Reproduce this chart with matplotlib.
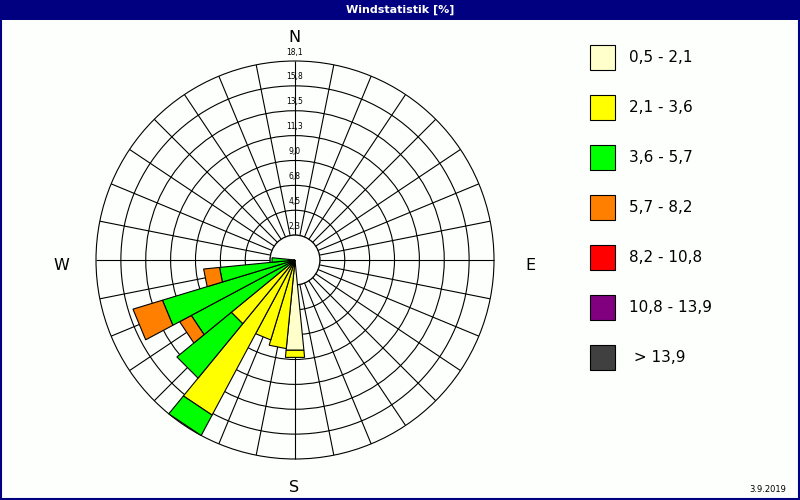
import numpy as np
import matplotlib
matplotlib.use("Agg")
import matplotlib.pyplot as plt
from matplotlib.patches import Polygon, Circle, Rectangle

# ---------------- data ----------------
title = "Windstatistik [%]"
date_text = "3.9.2019"
n_sectors = 32
directions = [180.0, 191.25, 202.5, 213.75, 225.0, 236.25, 247.5, 258.75, 270.0]
class_labels = ["0,5 - 2,1", "2,1 - 3,6", "3,6 - 5,7", "5,7 - 8,2",
                "8,2 - 10,8", "10,8 - 13,9", " > 13,9"]
class_colors = ["#FFFFCC", "#FFFF00", "#00FF00", "#FF8000",
                "#FF0000", "#800080", "#404040"]
# frequency [%] per speed class for each direction (stacked outward)
c1 = [8.25, 0.0, 0.0, 0.0, 0.0, 0.0, 0.0, 0.0, 0.0]
c2 = [0.65, 8.1, 7.6, 16.0, 7.5, 0.0, 0.0, 0.0, 0.0]
c3 = [0.0, 0.0, 0.0, 2.1, 6.4, 10.7, 12.6, 6.9, 2.1]
c4 = [0.0, 0.0, 0.0, 0.0, 0.0, 1.2, 2.8, 1.45, 0.0]
c5 = [0.0] * 9
c6 = [0.0] * 9
c7 = [0.0] * 9
classes = [c1, c2, c3, c4, c5, c6, c7]
ring_max = 18.1
ring_labels = ["2,3", "4,5", "6,8", "9,0", "11,3", "13,5", "15,8", "18,1"]
compass = ["N", "E", "S", "W"]

# ---------------- figure ----------------
W, H = 800, 500
bg = "#FCFFFC"
navy = "#000080"
fig = plt.figure(figsize=(8, 5), dpi=100, facecolor=bg)

# rose axes: centre at pixel (295,260), outer ring radius 199 px
cx, cy, Rpx = 295, 260, 199
K = Rpx / ring_max  # px per unit
ax = fig.add_axes([0, 0, 1, 1])
ax.set_xlim(-cx / K, (W - cx) / K)
ax.set_ylim(-(H - cy) / K, cy / K)
ax.axis("off")
ax.set_facecolor("none")

lw = 0.8
step = ring_max / len(ring_labels)
# rings
for i in range(1, len(ring_labels) + 1):
    ax.add_patch(Circle((0, 0), i * step, fill=False, ec="black", lw=lw, zorder=1))
# spokes
for k in range(n_sectors):
    a = np.deg2rad(k * 360.0 / n_sectors)
    ax.plot([step * np.sin(a), ring_max * np.sin(a)],
            [step * np.cos(a), ring_max * np.cos(a)],
            color="black", lw=lw, zorder=1, solid_capstyle="butt")
# inner hole
ax.add_patch(Circle((0, 0), step, fc=bg, ec="black", lw=lw, zorder=2))

# ring labels along north spoke
for i, lab in enumerate(ring_labels, start=1):
    ax.text(0, i * step + 9 / K, lab, ha="center", va="center",
            fontsize=5.5, family="DejaVu Sans", zorder=3)

# bars
half = 180.0 / n_sectors
for j, d in enumerate(directions):
    r0 = 0.0
    for ci, cls in enumerate(classes):
        v = cls[j]
        if v <= 0:
            continue
        r1 = r0 + v
        a1 = np.deg2rad(d - half)
        a2 = np.deg2rad(d + half)
        pts = [(r0 * np.sin(a1), r0 * np.cos(a1)),
               (r1 * np.sin(a1), r1 * np.cos(a1)),
               (r1 * np.sin(a2), r1 * np.cos(a2)),
               (r0 * np.sin(a2), r0 * np.cos(a2))]
        ax.add_patch(Polygon(pts, closed=True, fc=class_colors[ci],
                             ec="black", lw=lw, zorder=4))
        r0 = r1

# ---------------- overlay in pixel coords ----------------
ov = fig.add_axes([0, 0, 1, 1])
ov.set_xlim(0, W)
ov.set_ylim(H, 0)
ov.axis("off")
ov.set_facecolor("none")

# title bar and frame
ov.add_patch(Rectangle((0, 0), W, 20, fc=navy, ec="none", zorder=5))
ov.add_patch(Rectangle((0.5, 0.5), W - 1.5, H - 1.5, fill=False, ec=navy, lw=1.5, zorder=5))
ov.text(400, 10, title, ha="center", va="center", color="white",
        fontsize=8, fontweight="bold",
        family=["Liberation Sans Narrow", "DejaVu Sans"], zorder=6)

# compass letters
pos = {"N": (294, 38), "E": (530, 265), "S": (294, 488), "W": (61, 265)}
for c in compass:
    x, y = pos[c]
    ov.text(x, y, c, ha="center", va="center", fontsize=11.5, family="DejaVu Sans")

# legend
for i, (lab, col) in enumerate(zip(class_labels, class_colors)):
    y0 = 45 + 50 * i
    ov.add_patch(Rectangle((590, y0), 25, 25, fc=col, ec="black", lw=lw, zorder=5))
    ov.text(629, y0 + 13, lab, ha="left", va="center", fontsize=11, family="DejaVu Sans")

# date
ov.text(786, 490, date_text, ha="right", va="center", fontsize=6, family="DejaVu Sans")

fig.savefig("out.png", dpi=100, facecolor=bg)
